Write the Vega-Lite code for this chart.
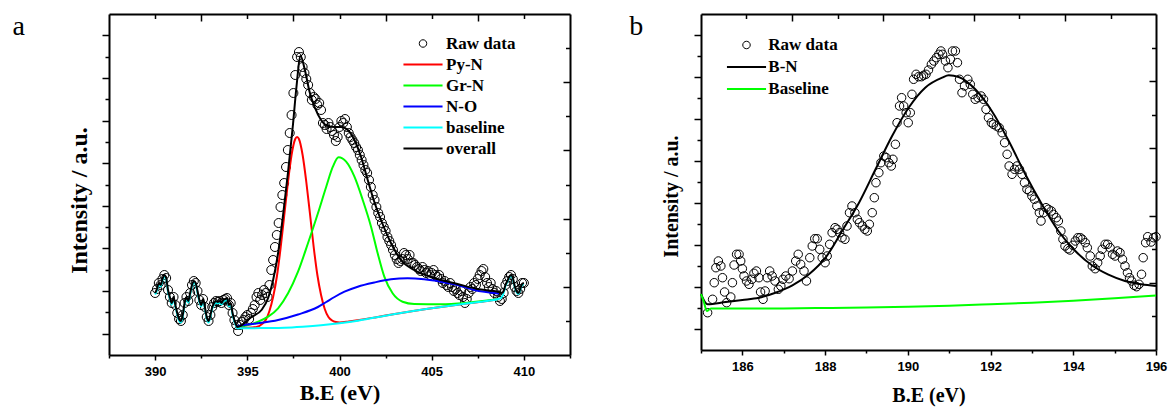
{
"$schema":"https://vega.github.io/schema/vega-lite/v6.json",
"background":"white",
"padding":{"left":12,"top":13,"right":5,"bottom":5},
"spacing":131,
"bounds":"flush",
"resolve":{"scale":{"color":"independent"},"legend":{"color":"independent"}},
"config":{
 "view":{"stroke":null},
 "axis":{"domainColor":"#000","domainWidth":2,"tickColor":"#000","tickWidth":1.5,"grid":false,"labelFont":"Liberation Sans","labelFontWeight":"bold","labelFontSize":13,"labelColor":"#000","titleFont":"Liberation Serif","titleFontWeight":"bold","titleColor":"#000","labelFlush":false,"labelOverlap":false,"labelBound":false},
 "legend":{"labelFont":"Liberation Serif","labelFontWeight":"bold","labelFontSize":17,"labelColor":"#000","symbolType":"M-2.3,0L2.3,0","symbolSize":289,"symbolStrokeWidth":2,"symbolFillColor":"transparent","padding":0,"titlePadding":0}
},
"datasets":{
"aRaw":[
{"x":390.0,"y":62},{"x":390.1,"y":66},{"x":390.2,"y":72},{"x":390.3,"y":70},{"x":390.4,"y":76},{"x":390.5,"y":80},{"x":390.6,"y":77},{"x":390.7,"y":65},{"x":390.8,"y":58},{"x":390.9,"y":52},
{"x":391.0,"y":58},{"x":391.1,"y":50},{"x":391.2,"y":42},{"x":391.3,"y":36},{"x":391.4,"y":34},{"x":391.5,"y":40},{"x":391.6,"y":52},{"x":391.7,"y":58},{"x":391.8,"y":54},{"x":391.9,"y":62},
{"x":392.0,"y":70},{"x":392.1,"y":74},{"x":392.2,"y":72},{"x":392.3,"y":64},{"x":392.4,"y":55},{"x":392.5,"y":50},{"x":392.6,"y":56},{"x":392.7,"y":48},{"x":392.8,"y":38},{"x":392.9,"y":34},
{"x":393.0,"y":40},{"x":393.1,"y":48},{"x":393.2,"y":52},{"x":393.3,"y":54},{"x":393.4,"y":53},{"x":393.5,"y":54},{"x":393.6,"y":52},{"x":393.7,"y":55},{"x":393.8,"y":56},{"x":393.9,"y":57},
{"x":394.0,"y":50},{"x":394.1,"y":52},{"x":394.2,"y":42},{"x":394.3,"y":35},{"x":394.4,"y":30},{"x":394.5,"y":24},{"x":394.6,"y":30},{"x":394.7,"y":33},{"x":394.8,"y":35},{"x":394.9,"y":38},
{"x":395.0,"y":40},{"x":395.1,"y":36},{"x":395.2,"y":42},{"x":395.3,"y":46},{"x":395.4,"y":50},{"x":395.5,"y":58},{"x":395.6,"y":62},{"x":395.7,"y":55},{"x":395.8,"y":60},{"x":395.9,"y":65},
{"x":396.0,"y":62},{"x":396.1,"y":58},{"x":396.2,"y":70},{"x":396.3,"y":85},{"x":396.4,"y":95},{"x":396.5,"y":108},{"x":396.6,"y":120},{"x":396.7,"y":132},{"x":396.8,"y":148},{"x":396.9,"y":160},
{"x":397.0,"y":172},{"x":397.1,"y":188},{"x":397.2,"y":205},{"x":397.3,"y":222},{"x":397.4,"y":240},{"x":397.5,"y":262},{"x":397.6,"y":280},{"x":397.7,"y":298},{"x":397.8,"y":303},{"x":397.9,"y":298},
{"x":398.0,"y":288},{"x":398.1,"y":282},{"x":398.2,"y":276},{"x":398.3,"y":270},{"x":398.4,"y":262},{"x":398.5,"y":255},{"x":398.6,"y":258},{"x":398.7,"y":256},{"x":398.8,"y":250},{"x":398.9,"y":252},
{"x":399.0,"y":245},{"x":399.1,"y":232},{"x":399.2,"y":230},{"x":399.3,"y":226},{"x":399.4,"y":232},{"x":399.5,"y":228},{"x":399.6,"y":224},{"x":399.7,"y":220},{"x":399.8,"y":214},{"x":399.9,"y":218},
{"x":400.0,"y":228},{"x":400.1,"y":234},{"x":400.2,"y":232},{"x":400.3,"y":236},{"x":400.4,"y":228},{"x":400.5,"y":222},{"x":400.6,"y":218},{"x":400.7,"y":215},{"x":400.8,"y":212},{"x":400.9,"y":208},
{"x":401.0,"y":205},{"x":401.1,"y":200},{"x":401.2,"y":195},{"x":401.3,"y":190},{"x":401.4,"y":185},{"x":401.5,"y":182},{"x":401.6,"y":175},{"x":401.7,"y":168},{"x":401.8,"y":160},{"x":401.9,"y":155},
{"x":402.0,"y":148},{"x":402.1,"y":142},{"x":402.2,"y":138},{"x":402.3,"y":132},{"x":402.4,"y":128},{"x":402.5,"y":124},{"x":402.6,"y":118},{"x":402.7,"y":114},{"x":402.8,"y":110},{"x":402.9,"y":105},
{"x":403.0,"y":100},{"x":403.1,"y":96},{"x":403.2,"y":92},{"x":403.3,"y":94},{"x":403.4,"y":96},{"x":403.5,"y":102},{"x":403.6,"y":100},{"x":403.7,"y":96},{"x":403.8,"y":100},{"x":403.9,"y":92},
{"x":404.0,"y":92},{"x":404.1,"y":90},{"x":404.2,"y":88},{"x":404.3,"y":86},{"x":404.4,"y":84},{"x":404.5,"y":88},{"x":404.6,"y":85},{"x":404.7,"y":82},{"x":404.8,"y":84},{"x":404.9,"y":80},
{"x":405.0,"y":82},{"x":405.1,"y":85},{"x":405.2,"y":80},{"x":405.3,"y":78},{"x":405.4,"y":80},{"x":405.5,"y":76},{"x":405.6,"y":72},{"x":405.7,"y":74},{"x":405.8,"y":70},{"x":405.9,"y":68},
{"x":406.0,"y":72},{"x":406.1,"y":68},{"x":406.2,"y":64},{"x":406.3,"y":66},{"x":406.4,"y":62},{"x":406.5,"y":60},{"x":406.6,"y":64},{"x":406.7,"y":58},{"x":406.8,"y":52},{"x":406.9,"y":56},
{"x":407.0,"y":62},{"x":407.1,"y":68},{"x":407.2,"y":66},{"x":407.3,"y":72},{"x":407.4,"y":70},{"x":407.5,"y":76},{"x":407.6,"y":80},{"x":407.7,"y":84},{"x":407.8,"y":86},{"x":407.9,"y":78},
{"x":408.0,"y":72},{"x":408.1,"y":68},{"x":408.2,"y":72},{"x":408.3,"y":66},{"x":408.4,"y":62},{"x":408.5,"y":64},{"x":408.6,"y":58},{"x":408.7,"y":54},{"x":408.8,"y":56},{"x":408.9,"y":62},
{"x":409.0,"y":70},{"x":409.1,"y":74},{"x":409.2,"y":78},{"x":409.3,"y":80},{"x":409.4,"y":76},{"x":409.5,"y":68},{"x":409.6,"y":64},{"x":409.7,"y":62},{"x":409.8,"y":66},{"x":409.9,"y":72},{"x":410.0,"y":72}
],
"aFit":[
{"s":"Py-N","x":394.45,"y":27},{"s":"Py-N","x":395.0,"y":27.2},{"s":"Py-N","x":395.5,"y":28},{"s":"Py-N","x":395.8,"y":31},{"s":"Py-N","x":396.0,"y":35},{"s":"Py-N","x":396.2,"y":44},{"s":"Py-N","x":396.4,"y":58},{"s":"Py-N","x":396.6,"y":78},{"s":"Py-N","x":396.8,"y":106},{"s":"Py-N","x":397.0,"y":139},{"s":"Py-N","x":397.2,"y":172},{"s":"Py-N","x":397.4,"y":200},{"s":"Py-N","x":397.6,"y":216},{"s":"Py-N","x":397.7,"y":218},{"s":"Py-N","x":397.8,"y":216},{"s":"Py-N","x":398.0,"y":200},{"s":"Py-N","x":398.2,"y":173},{"s":"Py-N","x":398.4,"y":141},{"s":"Py-N","x":398.6,"y":108},{"s":"Py-N","x":398.8,"y":80},{"s":"Py-N","x":399.0,"y":60},{"s":"Py-N","x":399.2,"y":46},{"s":"Py-N","x":399.4,"y":38},{"s":"Py-N","x":399.6,"y":34.5},{"s":"Py-N","x":399.8,"y":33},{"s":"Py-N","x":400.0,"y":32.5},{"s":"Py-N","x":400.5,"y":33.5},{"s":"Py-N","x":401.0,"y":34.8},{"s":"Py-N","x":402.0,"y":37.8},{"s":"Py-N","x":403.0,"y":41},{"s":"Py-N","x":404.0,"y":44},{"s":"Py-N","x":405.0,"y":46.7},{"s":"Py-N","x":406.0,"y":49.3},{"s":"Py-N","x":407.0,"y":51.7},{"s":"Py-N","x":408.0,"y":54},{"s":"Py-N","x":408.65,"y":56},
{"s":"Gr-N","x":394.45,"y":28.3},{"s":"Gr-N","x":395.05,"y":30},{"s":"Gr-N","x":395.59,"y":33.3},{"s":"Gr-N","x":396.13,"y":38.3},{"s":"Gr-N","x":396.67,"y":46.7},{"s":"Gr-N","x":397.21,"y":61.7},{"s":"Gr-N","x":397.75,"y":83.3},{"s":"Gr-N","x":398.29,"y":111.7},{"s":"Gr-N","x":398.83,"y":141.7},{"s":"Gr-N","x":399.28,"y":168.3},{"s":"Gr-N","x":399.64,"y":188.3},{"s":"Gr-N","x":399.95,"y":197.7},{"s":"Gr-N","x":400.36,"y":193.3},{"s":"Gr-N","x":400.81,"y":178.3},{"s":"Gr-N","x":401.26,"y":155},{"s":"Gr-N","x":401.71,"y":128.3},{"s":"Gr-N","x":402.07,"y":101.7},{"s":"Gr-N","x":402.43,"y":78.3},{"s":"Gr-N","x":402.88,"y":61.7},{"s":"Gr-N","x":403.42,"y":53.3},{"s":"Gr-N","x":404.05,"y":51},{"s":"Gr-N","x":405.5,"y":50.7},{"s":"Gr-N","x":406.94,"y":52.3},{"s":"Gr-N","x":408.65,"y":56},
{"s":"N-O","x":394.45,"y":29},{"s":"N-O","x":395.59,"y":31.7},{"s":"N-O","x":396.67,"y":35},{"s":"N-O","x":397.75,"y":40.5},{"s":"N-O","x":398.83,"y":48},{"s":"N-O","x":399.28,"y":53},{"s":"N-O","x":399.73,"y":58},{"s":"N-O","x":400.27,"y":63.3},{"s":"N-O","x":400.99,"y":68.3},{"s":"N-O","x":401.89,"y":72.5},{"s":"N-O","x":402.79,"y":75.7},{"s":"N-O","x":403.69,"y":76.7},{"s":"N-O","x":404.59,"y":75.7},{"s":"N-O","x":405.5,"y":73.3},{"s":"N-O","x":406.4,"y":70},{"s":"N-O","x":407.3,"y":65},{"s":"N-O","x":408.65,"y":61.5},
{"s":"baseline","x":390.0,"y":60.5},{"s":"baseline","x":390.1,"y":64.5},{"s":"baseline","x":390.2,"y":70.5},{"s":"baseline","x":390.3,"y":68.5},{"s":"baseline","x":390.4,"y":74.5},{"s":"baseline","x":390.5,"y":78.5},{"s":"baseline","x":390.6,"y":75.5},{"s":"baseline","x":390.7,"y":63.5},{"s":"baseline","x":390.8,"y":56.5},{"s":"baseline","x":390.9,"y":50.5},
{"s":"baseline","x":391.0,"y":56.5},{"s":"baseline","x":391.1,"y":48.5},{"s":"baseline","x":391.2,"y":40.5},{"s":"baseline","x":391.3,"y":34.5},{"s":"baseline","x":391.4,"y":32.5},{"s":"baseline","x":391.5,"y":38.5},{"s":"baseline","x":391.6,"y":50.5},{"s":"baseline","x":391.7,"y":56.5},{"s":"baseline","x":391.8,"y":52.5},{"s":"baseline","x":391.9,"y":60.5},
{"s":"baseline","x":392.0,"y":68.5},{"s":"baseline","x":392.1,"y":72.5},{"s":"baseline","x":392.2,"y":70.5},{"s":"baseline","x":392.3,"y":62.5},{"s":"baseline","x":392.4,"y":53.5},{"s":"baseline","x":392.5,"y":48.5},{"s":"baseline","x":392.6,"y":54.5},{"s":"baseline","x":392.7,"y":46.5},{"s":"baseline","x":392.8,"y":36.5},{"s":"baseline","x":392.9,"y":32.5},
{"s":"baseline","x":393.0,"y":38.5},{"s":"baseline","x":393.1,"y":46.5},{"s":"baseline","x":393.2,"y":50.5},{"s":"baseline","x":393.3,"y":52.5},{"s":"baseline","x":393.4,"y":51.5},{"s":"baseline","x":393.5,"y":52.5},{"s":"baseline","x":393.6,"y":50.5},{"s":"baseline","x":393.7,"y":53.5},{"s":"baseline","x":393.8,"y":54.5},{"s":"baseline","x":393.9,"y":55.5},
{"s":"baseline","x":394.0,"y":48.5},{"s":"baseline","x":394.1,"y":50.5},{"s":"baseline","x":394.2,"y":40.5},{"s":"baseline","x":394.3,"y":33.5},{"s":"baseline","x":394.4,"y":28.5},{"s":"baseline","x":394.45,"y":26.7},{"s":"baseline","x":396.0,"y":27},{"s":"baseline","x":397.0,"y":27.3},{"s":"baseline","x":398.0,"y":28.3},{"s":"baseline","x":399.0,"y":29.7},{"s":"baseline","x":400.0,"y":31.7},{"s":"baseline","x":401.0,"y":34.3},{"s":"baseline","x":402.0,"y":37.7},{"s":"baseline","x":403.0,"y":41},{"s":"baseline","x":404.0,"y":44},{"s":"baseline","x":405.0,"y":46.7},{"s":"baseline","x":406.0,"y":49.3},{"s":"baseline","x":407.0,"y":51.7},{"s":"baseline","x":408.0,"y":54},{"s":"baseline","x":408.7,"y":56.5},{"s":"baseline","x":408.8,"y":58},{"s":"baseline","x":408.9,"y":62},{"s":"baseline","x":409.0,"y":69},{"s":"baseline","x":409.1,"y":73},{"s":"baseline","x":409.2,"y":77},{"s":"baseline","x":409.3,"y":79},{"s":"baseline","x":409.4,"y":76},{"s":"baseline","x":409.5,"y":68},{"s":"baseline","x":409.6,"y":63},{"s":"baseline","x":409.7,"y":61},{"s":"baseline","x":409.8,"y":65},{"s":"baseline","x":409.9,"y":70},{"s":"baseline","x":410.0,"y":71},
{"s":"overall","x":390.0,"y":62},{"s":"overall","x":390.1,"y":66},{"s":"overall","x":390.2,"y":72},{"s":"overall","x":390.3,"y":70},{"s":"overall","x":390.4,"y":76},{"s":"overall","x":390.5,"y":80},{"s":"overall","x":390.6,"y":77},{"s":"overall","x":390.7,"y":65},{"s":"overall","x":390.8,"y":58},{"s":"overall","x":390.9,"y":52},
{"s":"overall","x":391.0,"y":58},{"s":"overall","x":391.1,"y":50},{"s":"overall","x":391.2,"y":42},{"s":"overall","x":391.3,"y":36},{"s":"overall","x":391.4,"y":34},{"s":"overall","x":391.5,"y":40},{"s":"overall","x":391.6,"y":52},{"s":"overall","x":391.7,"y":58},{"s":"overall","x":391.8,"y":54},{"s":"overall","x":391.9,"y":62},
{"s":"overall","x":392.0,"y":70},{"s":"overall","x":392.1,"y":74},{"s":"overall","x":392.2,"y":72},{"s":"overall","x":392.3,"y":64},{"s":"overall","x":392.4,"y":55},{"s":"overall","x":392.5,"y":50},{"s":"overall","x":392.6,"y":56},{"s":"overall","x":392.7,"y":48},{"s":"overall","x":392.8,"y":38},{"s":"overall","x":392.9,"y":34},
{"s":"overall","x":393.0,"y":40},{"s":"overall","x":393.1,"y":48},{"s":"overall","x":393.2,"y":52},{"s":"overall","x":393.3,"y":54},{"s":"overall","x":393.4,"y":53},{"s":"overall","x":393.5,"y":54},{"s":"overall","x":393.6,"y":52},{"s":"overall","x":393.7,"y":55},{"s":"overall","x":393.8,"y":56},{"s":"overall","x":393.9,"y":57},
{"s":"overall","x":394.0,"y":50},{"s":"overall","x":394.1,"y":52},{"s":"overall","x":394.2,"y":42},{"s":"overall","x":394.3,"y":35},{"s":"overall","x":394.4,"y":30},{"s":"overall","x":394.45,"y":28},{"s":"overall","x":395.23,"y":38},{"s":"overall","x":395.77,"y":45},{"s":"overall","x":396.13,"y":57},{"s":"overall","x":396.4,"y":75},{"s":"overall","x":396.67,"y":102},{"s":"overall","x":396.94,"y":140},{"s":"overall","x":397.21,"y":183},{"s":"overall","x":397.48,"y":231},{"s":"overall","x":397.66,"y":267},{"s":"overall","x":397.89,"y":299},{"s":"overall","x":398.11,"y":286},{"s":"overall","x":398.38,"y":263},{"s":"overall","x":398.65,"y":248},{"s":"overall","x":399.0,"y":235},{"s":"overall","x":399.37,"y":229},{"s":"overall","x":399.73,"y":228},{"s":"overall","x":400.09,"y":228},{"s":"overall","x":400.45,"y":225},{"s":"overall","x":400.81,"y":215},{"s":"overall","x":401.17,"y":198},{"s":"overall","x":401.53,"y":175},{"s":"overall","x":401.89,"y":153},{"s":"overall","x":402.25,"y":135},{"s":"overall","x":402.79,"y":112},{"s":"overall","x":403.33,"y":95},{"s":"overall","x":404.05,"y":85},{"s":"overall","x":405.14,"y":77},{"s":"overall","x":406.4,"y":71},{"s":"overall","x":407.48,"y":66},{"s":"overall","x":408.65,"y":63},{"s":"overall","x":408.8,"y":62},{"s":"overall","x":408.9,"y":64},{"s":"overall","x":409.0,"y":70},{"s":"overall","x":409.1,"y":74},{"s":"overall","x":409.2,"y":78},{"s":"overall","x":409.3,"y":80},{"s":"overall","x":409.4,"y":77},{"s":"overall","x":409.5,"y":69},{"s":"overall","x":409.6,"y":64},{"s":"overall","x":409.7,"y":62},{"s":"overall","x":409.8,"y":66},{"s":"overall","x":409.9,"y":71},{"s":"overall","x":410.0,"y":72}
],
"bRaw":[
{"x":185.16,"y":37.3},{"x":185.28,"y":50.7},{"x":185.32,"y":67.3},{"x":185.36,"y":82.3},{"x":185.42,"y":89},{"x":185.48,"y":84},{"x":185.52,"y":72.3},{"x":185.57,"y":58},{"x":185.62,"y":47.3},{"x":185.72,"y":53},{"x":185.76,"y":67.3},{"x":185.8,"y":85},{"x":185.86,"y":95.7},{"x":185.92,"y":95.7},{"x":185.96,"y":89},
{"x":186.0,"y":81.3},{"x":186.04,"y":74},{"x":186.1,"y":69},{"x":186.16,"y":65.7},{"x":186.23,"y":70.7},{"x":186.28,"y":76.7},{"x":186.34,"y":79},{"x":186.4,"y":72.3},{"x":186.44,"y":58},{"x":186.5,"y":50.7},{"x":186.55,"y":59},{"x":186.6,"y":72.3},{"x":186.66,"y":79},{"x":186.72,"y":74},{"x":186.79,"y":69},{"x":186.87,"y":60.7},{"x":186.93,"y":64},{"x":186.98,"y":70.7},
{"x":187.05,"y":74},{"x":187.13,"y":71.3},{"x":187.21,"y":79},{"x":187.29,"y":89},{"x":187.35,"y":95.7},{"x":187.41,"y":85.7},{"x":187.49,"y":79},{"x":187.55,"y":69},{"x":187.63,"y":92.3},{"x":187.69,"y":104},{"x":187.75,"y":111.3},{"x":187.81,"y":111.3},{"x":187.87,"y":100.7},{"x":187.93,"y":92.3},
{"x":188.0,"y":87.3},{"x":188.05,"y":94},{"x":188.11,"y":105.7},{"x":188.17,"y":117.3},{"x":188.24,"y":122.3},{"x":188.29,"y":120.7},{"x":188.35,"y":117.3},{"x":188.41,"y":112.3},{"x":188.48,"y":110.7},{"x":188.53,"y":124},{"x":188.59,"y":137.3},{"x":188.65,"y":144},{"x":188.72,"y":137.3},{"x":188.78,"y":130.7},{"x":188.83,"y":127.3},{"x":188.9,"y":124},{"x":188.96,"y":120.7},
{"x":189.02,"y":119},{"x":189.07,"y":125.7},{"x":189.14,"y":137.3},{"x":189.19,"y":152.3},{"x":189.23,"y":167.3},{"x":189.3,"y":177.3},{"x":189.35,"y":187.3},{"x":189.42,"y":194},{"x":189.48,"y":192.3},{"x":189.54,"y":187.3},{"x":189.6,"y":184},{"x":189.64,"y":190.7},{"x":189.7,"y":205.7},{"x":189.74,"y":227.3},{"x":189.8,"y":244},{"x":189.85,"y":252.3},{"x":189.9,"y":244},{"x":189.96,"y":237.3},
{"x":190.01,"y":227.3},{"x":190.06,"y":237.3},{"x":190.1,"y":255.7},{"x":190.14,"y":270.7},{"x":190.2,"y":275.7},{"x":190.26,"y":273.3},{"x":190.33,"y":273.3},{"x":190.38,"y":274.7},{"x":190.44,"y":275.7},{"x":190.5,"y":280},{"x":190.57,"y":285.7},{"x":190.63,"y":289},{"x":190.69,"y":292.3},{"x":190.75,"y":295.7},{"x":190.8,"y":299},{"x":190.84,"y":295.7},{"x":190.91,"y":289},{"x":190.97,"y":282.3},
{"x":191.03,"y":290.7},{"x":191.08,"y":299},{"x":191.15,"y":299},{"x":191.2,"y":287.3},{"x":191.25,"y":270.7},{"x":191.31,"y":257.3},{"x":191.37,"y":264},{"x":191.45,"y":270.7},{"x":191.51,"y":265.7},{"x":191.57,"y":255.7},{"x":191.63,"y":250.7},{"x":191.7,"y":252.3},{"x":191.77,"y":254},{"x":191.83,"y":250.7},{"x":191.89,"y":240.7},{"x":191.95,"y":232.3},
{"x":192.02,"y":227.3},{"x":192.07,"y":225.7},{"x":192.14,"y":224},{"x":192.21,"y":222.3},{"x":192.28,"y":217.3},{"x":192.34,"y":207.3},{"x":192.4,"y":195.7},{"x":192.45,"y":184},{"x":192.52,"y":175.7},{"x":192.58,"y":180.7},{"x":192.64,"y":184},{"x":192.7,"y":180.7},{"x":192.76,"y":175.7},{"x":192.82,"y":167.3},{"x":192.88,"y":160.7},{"x":192.94,"y":159},
{"x":193.0,"y":154},{"x":193.06,"y":150.7},{"x":193.12,"y":144},{"x":193.18,"y":137.3},{"x":193.22,"y":129},{"x":193.28,"y":137.3},{"x":193.34,"y":142.3},{"x":193.4,"y":140.7},{"x":193.47,"y":139},{"x":193.52,"y":135.7},{"x":193.59,"y":132.3},{"x":193.64,"y":129},{"x":193.7,"y":119},{"x":193.75,"y":110.7},{"x":193.8,"y":104},{"x":193.87,"y":101.3},{"x":193.92,"y":100},{"x":193.99,"y":104.7},
{"x":194.05,"y":109},{"x":194.11,"y":112.3},{"x":194.17,"y":112.3},{"x":194.22,"y":110.7},{"x":194.29,"y":107.3},{"x":194.34,"y":102.3},{"x":194.41,"y":94},{"x":194.46,"y":84},{"x":194.53,"y":81.3},{"x":194.59,"y":87.3},{"x":194.65,"y":94},{"x":194.7,"y":100.7},{"x":194.77,"y":105.7},{"x":194.83,"y":105.7},{"x":194.89,"y":102.3},{"x":194.95,"y":95.7},
{"x":195.01,"y":94},{"x":195.07,"y":99},{"x":195.13,"y":97.3},{"x":195.19,"y":90.7},{"x":195.25,"y":84},{"x":195.31,"y":77.3},{"x":195.36,"y":72.3},{"x":195.41,"y":69},{"x":195.47,"y":64.7},{"x":195.53,"y":63.3},{"x":195.59,"y":65.7},{"x":195.65,"y":75.7},{"x":195.69,"y":92.3},{"x":195.75,"y":107.3},{"x":195.8,"y":113.3},{"x":195.88,"y":108},{"x":195.94,"y":112.3},{"x":196.0,"y":113.3}
],
"bFit":[
{"s":"B-N","x":185.0,"y":56},{"s":"B-N","x":185.1,"y":47.7},{"s":"B-N","x":185.16,"y":45.7},{"s":"B-N","x":185.6,"y":48},{"s":"B-N","x":186.0,"y":50},{"s":"B-N","x":186.4,"y":52.3},{"s":"B-N","x":186.8,"y":57.3},{"s":"B-N","x":187.21,"y":64.7},{"s":"B-N","x":187.61,"y":75.7},{"s":"B-N","x":188.01,"y":92.3},{"s":"B-N","x":188.41,"y":119},{"s":"B-N","x":188.82,"y":147.3},{"s":"B-N","x":189.22,"y":180.7},{"s":"B-N","x":189.62,"y":214},{"s":"B-N","x":190.02,"y":242.3},{"s":"B-N","x":190.42,"y":262.3},{"s":"B-N","x":190.83,"y":272.3},{"s":"B-N","x":190.99,"y":274.7},{"s":"B-N","x":191.23,"y":273},{"s":"B-N","x":191.63,"y":260.7},{"s":"B-N","x":192.03,"y":239},{"s":"B-N","x":192.44,"y":209},{"s":"B-N","x":192.84,"y":175.7},{"s":"B-N","x":193.24,"y":145.7},{"s":"B-N","x":193.64,"y":119},{"s":"B-N","x":194.05,"y":99},{"s":"B-N","x":194.45,"y":84.7},{"s":"B-N","x":194.85,"y":75.3},{"s":"B-N","x":195.25,"y":69},{"s":"B-N","x":195.65,"y":65.7},{"s":"B-N","x":196.0,"y":64},
{"s":"Baseline","x":185.0,"y":56},{"s":"Baseline","x":185.07,"y":48},{"s":"Baseline","x":185.14,"y":39},{"s":"Baseline","x":185.24,"y":41.5},{"s":"Baseline","x":186.0,"y":41.5},{"s":"Baseline","x":187.0,"y":41.6},{"s":"Baseline","x":188.0,"y":42},{"s":"Baseline","x":189.0,"y":42.5},{"s":"Baseline","x":190.0,"y":43.3},{"s":"Baseline","x":191.0,"y":44.3},{"s":"Baseline","x":192.0,"y":45.7},{"s":"Baseline","x":193.0,"y":47.3},{"s":"Baseline","x":194.0,"y":49.3},{"s":"Baseline","x":195.0,"y":51.7},{"s":"Baseline","x":196.0,"y":54.5}
]
},
"hconcat":[
{
 "width":461,"height":341,
 "title":{"text":"a","orient":"left","anchor":"end","frame":"group","angle":0,"align":"right","baseline":"alphabetic","dy":21,"offset":30,"font":"Liberation Serif","fontSize":28,"fontWeight":"normal","color":"#000"},
 "resolve":{"axis":{"x":"independent","y":"independent"}},
 "layer":[
  {
   "data":{"name":"aRaw"},
   "mark":{"type":"point","shape":"circle","filled":false,"stroke":"#000","strokeWidth":1,"size":81,"opacity":1},
   "encoding":{
    "x":{"field":"x","type":"quantitative","scale":{"domain":[387.5,412.5],"nice":false,"zero":false},
     "axis":{"orient":"top","values":[390,392.5,395,397.5,400,402.5,405,407.5,410],"labels":false,"title":null,
      "tickSize":{"condition":{"test":"(datum.value - 387.5) % 5 == 0","value":-7},"value":-4.5}}},
    "y":{"field":"y","type":"quantitative","scale":{"domain":[0,341],"nice":false,"zero":false},
     "axis":{"orient":"right","values":[34.1,68.2,102.3,136.4,170.5,204.6,238.7,272.8,306.9],"labels":false,"title":null,
      "tickSize":{"condition":{"test":"round(datum.value / 34.1) % 2 == 0","value":-7},"value":-4.5}}}
   }
  },
  {
   "data":{"name":"aFit"},
   "mark":{"type":"line","strokeWidth":2,"interpolate":"monotone"},
   "encoding":{
    "x":{"field":"x","type":"quantitative","scale":{"domain":[387.5,412.5],"nice":false,"zero":false},
     "axis":{"orient":"bottom","values":[387.5,390,392.5,395,397.5,400,402.5,405,407.5,410,412.5],"labelExpr":"datum.value % 5 == 0 ? datum.label : ''",
      "tickSize":{"condition":{"test":"datum.value % 5 == 0","value":5},"value":3},"labelPadding":5,"title":"B.E (eV)","titleFontSize":22,"titlePadding":4}},
    "y":{"field":"y","type":"quantitative","scale":{"domain":[0,341],"nice":false,"zero":false},
     "axis":{"orient":"left","values":[21.3125,42.625,63.9375,85.25,106.5625,127.875,149.1875,170.5,191.8125,213.125,234.4375,255.75,277.0625,298.375,319.6875],"labels":false,
      "tickSize":{"condition":{"test":"round(datum.value / 21.3125) % 2 == 1","value":7},"value":4},
      "title":"Intensity / a.u.","titleFontSize":24,"titlePadding":10,"titleY":186}},
    "color":{"field":"s","type":"nominal",
     "scale":{"domain":["Raw data","Py-N","Gr-N","N-O","baseline","overall"],"range":["#000000","#ff0000","#00ff00","#0000ff","#00ffff","#000000"]},
     "legend":{"title":null,"orient":"none","legendX":305.5,"legendY":21,"labelOffset":14.5,"rowPadding":3,
      "encode":{"symbols":{"update":{"shape":{"signal":"datum.value === 'Raw data' ? 'M-0.44,0A0.44,0.44 0 1,0 0.44,0A0.44,0.44 0 1,0 -0.44,0' : 'M-2.3,0L2.3,0'"},"strokeWidth":{"signal":"datum.value === 'Raw data' ? 1 : 2"}}}}}}
   }
  }
 ]
},
{
 "width":455,"height":336,
 "title":{"text":"b","orient":"left","anchor":"end","frame":"group","angle":0,"align":"right","baseline":"alphabetic","dy":21,"offset":4,"font":"Liberation Serif","fontSize":28,"fontWeight":"normal","color":"#000"},
 "resolve":{"axis":{"x":"independent","y":"independent"}},
 "layer":[
  {
   "data":{"name":"bRaw"},
   "mark":{"type":"point","shape":"circle","filled":false,"stroke":"#000","strokeWidth":1,"size":72,"opacity":1},
   "encoding":{
    "x":{"field":"x","type":"quantitative","scale":{"domain":[185,196],"nice":false,"zero":false},
     "axis":{"orient":"top","values":[186.1,187.2,188.3,189.4,190.5,191.6,192.7,193.8,194.9],"labels":false,"title":null,
      "tickSize":{"condition":{"test":"indexof([187.2,189.4,191.6,193.8], datum.value) >= 0","value":-7},"value":-4.5}}},
    "y":{"field":"y","type":"quantitative","scale":{"domain":[0,336],"nice":false,"zero":false},
     "axis":{"orient":"right","values":[33.6,67.2,100.8,134.4,168,201.6,235.2,268.8,302.4],"labels":false,"title":null,
      "tickSize":{"condition":{"test":"round(datum.value / 33.6) % 2 == 0","value":-7},"value":-4.5}}}
   }
  },
  {
   "data":{"name":"bFit"},
   "mark":{"type":"line","strokeWidth":2,"interpolate":"monotone"},
   "encoding":{
    "x":{"field":"x","type":"quantitative","scale":{"domain":[185,196],"nice":false,"zero":false},
     "axis":{"orient":"bottom","values":[185,186,187,188,189,190,191,192,193,194,195,196],"labelExpr":"datum.value % 2 == 0 ? datum.label : ''",
      "tickSize":{"condition":{"test":"datum.value % 2 == 0","value":5},"value":3},"labelPadding":5,"title":"B.E (eV)","titleFontSize":20,"titlePadding":12}},
    "y":{"field":"y","type":"quantitative","scale":{"domain":[0,336],"nice":false,"zero":false},
     "axis":{"orient":"left","values":[21,42,63,84,105,126,147,168,189,210,231,252,273,294,315],"labels":false,
      "tickSize":{"condition":{"test":"round(datum.value / 21) % 2 == 1","value":7},"value":4},
      "title":"Intensity / a.u.","titleFontSize":20,"titlePadding":12,"titleY":182}},
    "color":{"field":"s","type":"nominal",
     "scale":{"domain":["Raw data","B-N","Baseline"],"range":["#000000","#000000","#00ff00"]},
     "legend":{"title":null,"orient":"none","legendX":37,"legendY":22.5,"labelOffset":13.3,"rowPadding":4,
      "encode":{"symbols":{"update":{"shape":{"signal":"datum.value === 'Raw data' ? 'M-0.44,0A0.44,0.44 0 1,0 0.44,0A0.44,0.44 0 1,0 -0.44,0' : 'M-2.3,0L2.3,0'"},"strokeWidth":{"signal":"datum.value === 'Raw data' ? 1 : 2"}}}}}}
   }
  }
 ]
}
]
}
